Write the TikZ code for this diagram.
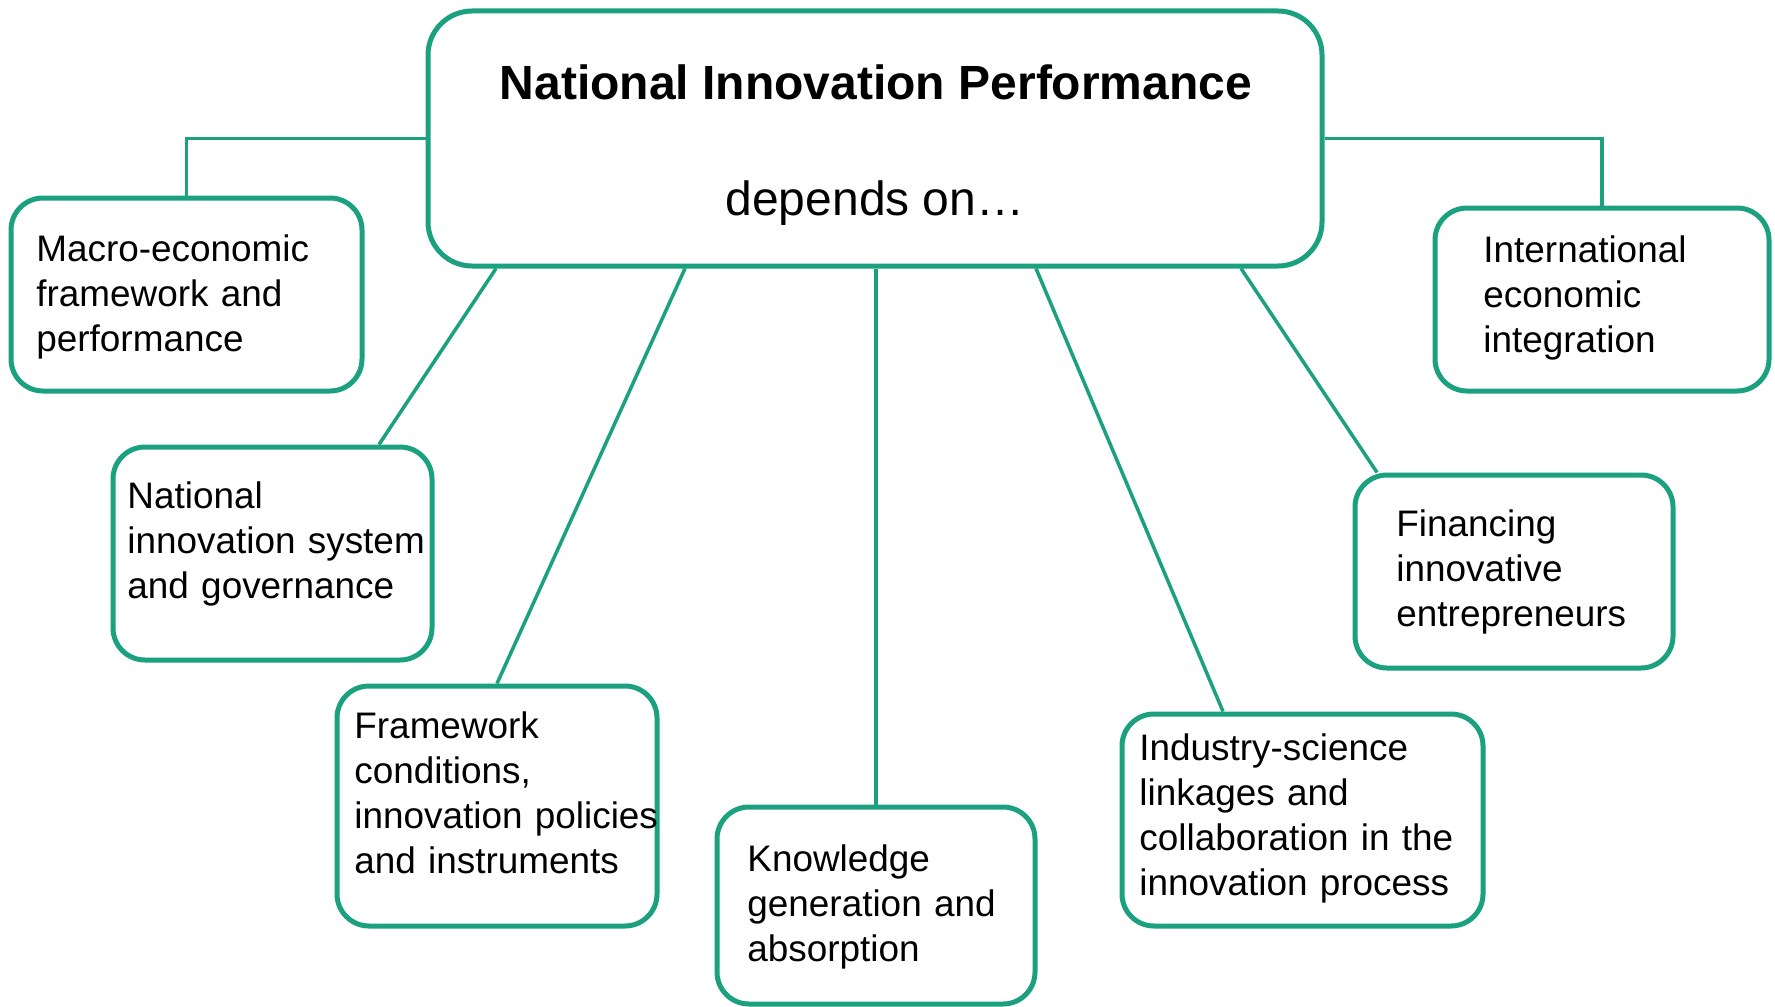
\documentclass[tikz,border=0pt]{standalone}
\usepackage{fontspec}
\setmainfont{Liberation Sans}
\definecolor{nipgreen}{HTML}{1BA080}
\begin{document}
\begin{tikzpicture}[x=0.5pt,y=-0.5pt,
  box/.style={draw=nipgreen, line width=2.5pt, rounded corners=16pt, fill=white,
    rectangle, inner sep=0pt},
  mainbox/.style={box, rounded corners=22pt},
  link/.style={draw=nipgreen, line width=1.75pt},
  txt/.style={anchor=base west, inner sep=0pt, align=left, text width=250pt,
    font=\fontsize{18.45}{22.65}\selectfont},
  title/.style={anchor=base, inner sep=0pt, font=\fontsize{24}{28}\selectfont}
]
\useasboundingbox[fill=white] (0,0) rectangle (1775,1006);

% boxes
\node[mainbox, minimum width=447pt, minimum height=127.5pt] (main) at (875,138.5) {};
\node[box, minimum width=175.5pt, minimum height=96.5pt] (macro) at (186.5,294.5) {};
\node[box, minimum width=159.5pt, minimum height=106.5pt] (natl) at (272.5,553.5) {};
\node[box, minimum width=160pt, minimum height=120pt] (frame) at (497,806) {};
\node[box, minimum width=159pt, minimum height=98.5pt] (know) at (876,905.5) {};
\node[box, minimum width=180.5pt, minimum height=106pt] (ind) at (1302.5,820) {};
\node[box, minimum width=159pt, minimum height=96.5pt] (fin) at (1514,571.5) {};
\node[box, minimum width=167pt, minimum height=91.5pt] (intl) at (1602,299.5) {};

% connectors
\draw[link] (macro.north) |- (main.west);
\draw[link] (main.east) -| (intl.north);
\draw[link] ([xshift=-189.5pt]main.south) -- ([xshift=53.25pt]natl.north);
\draw[link] ([xshift=-95pt]main.south) -- (frame.north);
\draw[link] (know.north) -- (know.north |- main.south);
\draw[link] ([xshift=80.5pt]main.south) -- ([xshift=-39.75pt]ind.north);
\draw[link] ([xshift=183pt]main.south) -- ([xshift=-68.5pt]fin.north);

% texts
\node[title, font=\fontsize{24}{28}\selectfont\bfseries] (maint) at (876,99) {National Innovation Performance};
\node[title] (mains) at (875,215) {depends on…};
\node[txt] (macrot) at (36,261) {Macro-economic\\framework and\\performance};
\node[txt] (natlt) at (127,508) {National\\innovation system\\and governance};
\node[txt] (framet) at (354,738) {Framework\\conditions,\\innovation policies\\and instruments};
\node[txt] (knowt) at (747,871) {Knowledge\\generation and\\absorption};
\node[txt] (indt) at (1139,760) {Industry-science\\linkages and\\collaboration in the\\innovation process};
\node[txt] (fint) at (1396,536) {Financing\\innovative\\entrepreneurs};
\node[txt] (intlt) at (1483,262) {International\\economic\\integration};
\end{tikzpicture}
\end{document}
